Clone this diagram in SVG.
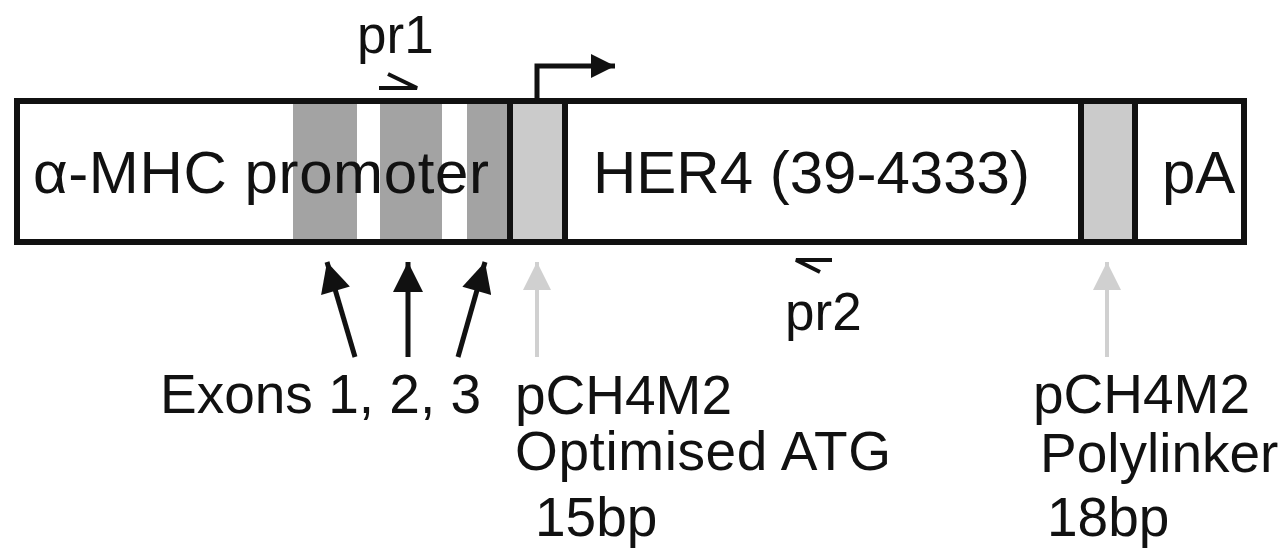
<svg xmlns="http://www.w3.org/2000/svg" width="1284" height="555" viewBox="0 0 1284 555">
<style>
text{font-family:"Liberation Sans",Arial,sans-serif;fill:#111}
.big{font-size:60px}
.lbl{font-size:55px}
.pr{font-size:53px}
.exon{fill:#a3a3a3}
.link{fill:#cbcbcb}
.edge{fill:none;stroke:#111;stroke-width:6}
.blk{fill:none;stroke:#111;stroke-width:5}
.gry{fill:none;stroke:#d0d0d0;stroke-width:4}
.half{fill:none;stroke:#111;stroke-width:4}
</style>
<defs>
<marker id="ab" viewBox="0 0 10 10" refX="10" refY="5" markerWidth="33" markerHeight="30" markerUnits="userSpaceOnUse" orient="auto"><path d="M0,0 L10,5 L0,10 z" fill="#111"/></marker>
<marker id="ag" viewBox="0 0 10 10" refX="10" refY="5" markerWidth="32" markerHeight="28" markerUnits="userSpaceOnUse" orient="auto"><path d="M0,0 L10,5 L0,10 z" fill="#d0d0d0"/></marker>
<marker id="at" viewBox="0 0 10 10" refX="10" refY="5" markerWidth="34" markerHeight="24" markerUnits="userSpaceOnUse" orient="auto"><path d="M0,0 L10,5 L0,10 z" fill="#111"/></marker>
</defs>
<rect x="17" y="101" width="1227" height="141" fill="#fff"/>
<g id="promoter">
<rect class="exon" x="293" y="104" width="64" height="135"/>
<rect class="exon" x="380" y="104" width="62" height="135"/>
<rect class="exon" x="467" y="104" width="43" height="135"/>
<text class="big" x="33" y="193" letter-spacing="0.6">α-MHC promoter</text>
</g>
<g id="atg">
<rect class="link" x="510" y="104" width="55" height="135"/>
</g>
<g id="her4">
<text class="big" x="593" y="193">HER4 (39-4333)</text>
</g>
<g id="polylinker">
<rect class="link" x="1081" y="104" width="54" height="135"/>
</g>
<g id="pa">
<text class="big" x="1162" y="193">pA</text>
</g>
<g id="outline">
<rect class="edge" x="17" y="101" width="1227" height="141"/>
<line class="edge" x1="510" y1="101" x2="510" y2="242"/>
<line class="edge" x1="565" y1="101" x2="565" y2="242"/>
<line class="edge" x1="1081" y1="101" x2="1081" y2="242"/>
<line class="edge" x1="1135" y1="101" x2="1135" y2="242"/>
</g>
<g id="primers">
<text class="pr" x="357" y="53">pr1</text>
<path class="half" d="M379,88 H417 L388,74"/>
<text class="pr" x="785" y="330">pr2</text>
<path class="half" d="M832,260 H796 L820,272"/>
</g>
<g id="labels">
<text class="lbl" x="160" y="413">Exons 1, 2, 3</text>
<text class="lbl" x="515" y="414">pCH4M2</text>
<text class="lbl" x="515" y="470" letter-spacing="0.6">Optimised ATG</text>
<text class="lbl" x="535" y="536">15bp</text>
<text class="lbl" x="1033" y="413">pCH4M2</text>
<text class="lbl" x="1040" y="472">Polylinker</text>
<text class="lbl" x="1047" y="536">18bp</text>
</g>
<g id="connectors">
<path class="blk" d="M537,101 V66 H615" marker-end="url(#at)"/>
<line class="blk" x1="355" y1="357" x2="327" y2="262" marker-end="url(#ab)"/>
<line class="blk" x1="408" y1="357" x2="408" y2="262" marker-end="url(#ab)"/>
<line class="blk" x1="458" y1="357" x2="485" y2="262" marker-end="url(#ab)"/>
<line class="gry" x1="537" y1="357" x2="537" y2="262" marker-end="url(#ag)"/>
<line class="gry" x1="1107" y1="357" x2="1107" y2="262" marker-end="url(#ag)"/>
</g>
</svg>
